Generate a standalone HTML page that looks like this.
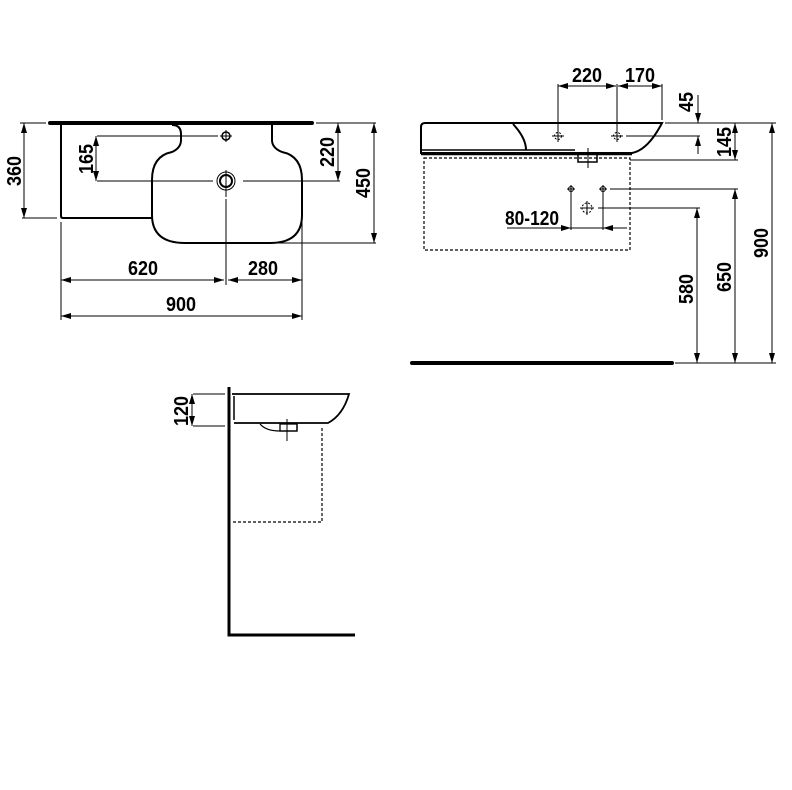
<!DOCTYPE html>
<html><head><meta charset="utf-8"><style>html,body{margin:0;padding:0;background:#fff}svg{display:block}text{font-family:"Liberation Sans",sans-serif;font-weight:bold;font-size:20px;fill:#000}</style></head><body>
<svg width="792" height="790" viewBox="0 0 792 790" xmlns="http://www.w3.org/2000/svg">
<defs>
<marker id="a" viewBox="0 0 10 6" refX="10" refY="3" markerWidth="10" markerHeight="6" orient="auto-start-reverse" markerUnits="userSpaceOnUse"><path d="M0,0L10,3L0,6z" fill="#000"/></marker>
</defs>
<g fill="none" stroke="#000">
<line x1="50" y1="123" x2="312" y2="123" stroke-width="4" stroke-linecap="round"/>
<path d="M61,125V216Q61,218 63,218H152" stroke-width="2"/>
<path d="M172,125Q181,125 181,134V140Q181,148 172,152Q152,156 152,180V215Q152,243 185,243H270Q302,243 302,215V180Q302,156 282,152Q272,148 272,140V125" stroke-width="2"/>
<circle cx="226" cy="136" r="4" stroke-width="1.5"/>
<line x1="220" y1="136" x2="232" y2="136" stroke-width="1"/><line x1="226" y1="130" x2="226" y2="142" stroke-width="1"/>
<circle cx="226" cy="181" r="6" stroke-width="2"/><circle cx="226" cy="181" r="9" stroke-width="1"/>
<line x1="226" y1="170" x2="226" y2="197" stroke-width="1"/>
<g stroke-width="1">
<line x1="97" y1="136" x2="218" y2="136"/>
<line x1="97" y1="181" x2="213" y2="181"/><line x1="243" y1="181" x2="340" y2="181"/>
<line x1="96" y1="136" x2="96" y2="181" marker-start="url(#a)" marker-end="url(#a)"/>
<line x1="316" y1="123" x2="376" y2="123"/>
<line x1="338" y1="123" x2="338" y2="181" marker-start="url(#a)" marker-end="url(#a)"/>
<line x1="277" y1="243" x2="376" y2="243"/>
<line x1="374" y1="123" x2="374" y2="243" marker-start="url(#a)" marker-end="url(#a)"/>
<line x1="20" y1="123" x2="46" y2="123"/><line x1="22" y1="218" x2="57" y2="218"/>
<line x1="24" y1="123" x2="24" y2="218" marker-start="url(#a)" marker-end="url(#a)"/>
<line x1="61" y1="222" x2="61" y2="320"/><line x1="226" y1="199" x2="226" y2="285"/><line x1="302" y1="222" x2="302" y2="320"/>
<line x1="61" y1="280" x2="224" y2="280" marker-start="url(#a)" marker-end="url(#a)"/>
<line x1="228" y1="280" x2="302" y2="280" marker-start="url(#a)" marker-end="url(#a)"/>
<line x1="61" y1="316" x2="302" y2="316" marker-start="url(#a)" marker-end="url(#a)"/>
</g>
<path d="M425,123H662Q648,150 632,153H421V127Q421,123 425,123Z" stroke-width="2"/>
<line x1="421" y1="154" x2="632" y2="154" stroke-width="2.5"/>
<line x1="422" y1="150" x2="575" y2="150" stroke-width="1.5"/>
<path d="M513,124Q526,138 526,150" stroke-width="2"/>
<rect x="578" y="154" width="19" height="8" stroke-width="1.5"/>
<line x1="588" y1="148" x2="588" y2="168" stroke-width="1"/>
<rect x="424" y="158" width="206" height="92" stroke-width="1.2" stroke-dasharray="3,2"/>
<g stroke-width="1">
<circle cx="558" cy="136" r="3.5" stroke-dasharray="2,1.5"/><line x1="552" y1="136" x2="564" y2="136"/><line x1="558" y1="130" x2="558" y2="142"/>
<circle cx="617" cy="136" r="3.5" stroke-dasharray="2,1.5"/><line x1="611" y1="136" x2="623" y2="136"/><line x1="617" y1="130" x2="617" y2="142"/>
<line x1="626" y1="136" x2="700" y2="136"/>
<line x1="558" y1="84" x2="558" y2="130"/><line x1="617" y1="84" x2="617" y2="130"/><line x1="662" y1="84" x2="662" y2="120"/>
<line x1="558" y1="86" x2="616" y2="86" marker-start="url(#a)" marker-end="url(#a)"/>
<line x1="618" y1="86" x2="662" y2="86" marker-start="url(#a)" marker-end="url(#a)"/>
<line x1="698" y1="95" x2="698" y2="123" marker-end="url(#a)"/>
<line x1="698" y1="154" x2="698" y2="136" marker-end="url(#a)"/>
<line x1="665" y1="123" x2="776" y2="123"/>
<line x1="630" y1="160" x2="738" y2="160"/>
<line x1="735" y1="123" x2="735" y2="160" marker-start="url(#a)" marker-end="url(#a)"/>
<line x1="772" y1="123" x2="772" y2="363" marker-start="url(#a)" marker-end="url(#a)"/>
<circle cx="571" cy="189" r="2.5"/><line x1="567" y1="189" x2="575" y2="189"/><line x1="571" y1="185" x2="571" y2="193"/>
<circle cx="603" cy="189" r="2.5"/><line x1="599" y1="189" x2="607" y2="189"/><line x1="603" y1="185" x2="603" y2="193"/>
<line x1="610" y1="189" x2="738" y2="189"/>
<circle cx="587" cy="208" r="5" stroke-dasharray="2,1.5"/><line x1="580" y1="208" x2="594" y2="208"/><line x1="587" y1="201" x2="587" y2="215"/>
<line x1="598" y1="208" x2="700" y2="208"/>
<line x1="571" y1="193" x2="571" y2="230"/><line x1="603" y1="193" x2="603" y2="230"/>
<line x1="507" y1="228" x2="571" y2="228" marker-end="url(#a)"/>
<line x1="627" y1="228" x2="603" y2="228" marker-end="url(#a)"/>
<line x1="571" y1="228" x2="603" y2="228"/>
<line x1="697" y1="208" x2="697" y2="363" marker-start="url(#a)" marker-end="url(#a)"/>
<line x1="735" y1="189" x2="735" y2="363" marker-start="url(#a)" marker-end="url(#a)"/>
<line x1="675" y1="363" x2="776" y2="363"/>
</g>
<line x1="412" y1="363" x2="672" y2="363" stroke-width="4" stroke-linecap="round"/>
<path d="M229,387V635H355" stroke-width="3"/>
<path d="M232,394H349Q343,415 328,423H234" stroke-width="1.8"/>
<line x1="234" y1="396" x2="234" y2="420" stroke-width="1.5"/>
<path d="M260,424Q266,431 280,431H297V424" stroke-width="1.3"/>
<rect x="280" y="424" width="17" height="7" stroke-width="1.3"/>
<line x1="287" y1="419" x2="287" y2="441" stroke-width="1"/>
<path d="M322,428V522H231" stroke-width="1.2" stroke-dasharray="3,2"/>
<g stroke-width="1">
<line x1="193" y1="394" x2="225" y2="394"/><line x1="193" y1="426" x2="225" y2="426"/>
<line x1="192" y1="394" x2="192" y2="426" marker-start="url(#a)" marker-end="url(#a)"/>
</g>
</g>
<g>
<text transform="translate(93,159) rotate(-90)" text-anchor="middle" textLength="30" lengthAdjust="spacingAndGlyphs">165</text>
<text transform="translate(334,152) rotate(-90)" text-anchor="middle" textLength="30" lengthAdjust="spacingAndGlyphs">220</text>
<text transform="translate(370,183) rotate(-90)" text-anchor="middle" textLength="30" lengthAdjust="spacingAndGlyphs">450</text>
<text transform="translate(21,171) rotate(-90)" text-anchor="middle" textLength="30" lengthAdjust="spacingAndGlyphs">360</text>
<text x="143" y="275" text-anchor="middle" textLength="30" lengthAdjust="spacingAndGlyphs">620</text>
<text x="263" y="275" text-anchor="middle" textLength="30" lengthAdjust="spacingAndGlyphs">280</text>
<text x="181" y="311" text-anchor="middle" textLength="30" lengthAdjust="spacingAndGlyphs">900</text>
<text x="587" y="82" text-anchor="middle" textLength="30" lengthAdjust="spacingAndGlyphs">220</text>
<text x="640" y="82" text-anchor="middle" textLength="30" lengthAdjust="spacingAndGlyphs">170</text>
<text transform="translate(693,102) rotate(-90)" text-anchor="middle" textLength="20" lengthAdjust="spacingAndGlyphs">45</text>
<text transform="translate(731,142) rotate(-90)" text-anchor="middle" textLength="30" lengthAdjust="spacingAndGlyphs">145</text>
<text transform="translate(768,243) rotate(-90)" text-anchor="middle" textLength="30" lengthAdjust="spacingAndGlyphs">900</text>
<text x="532" y="225" text-anchor="middle" textLength="54" lengthAdjust="spacingAndGlyphs">80-120</text>
<text transform="translate(693,289) rotate(-90)" text-anchor="middle" textLength="30" lengthAdjust="spacingAndGlyphs">580</text>
<text transform="translate(731,277) rotate(-90)" text-anchor="middle" textLength="30" lengthAdjust="spacingAndGlyphs">650</text>
<text transform="translate(188,411) rotate(-90)" text-anchor="middle" textLength="30" lengthAdjust="spacingAndGlyphs">120</text>
</g>
</svg>
</body></html>
